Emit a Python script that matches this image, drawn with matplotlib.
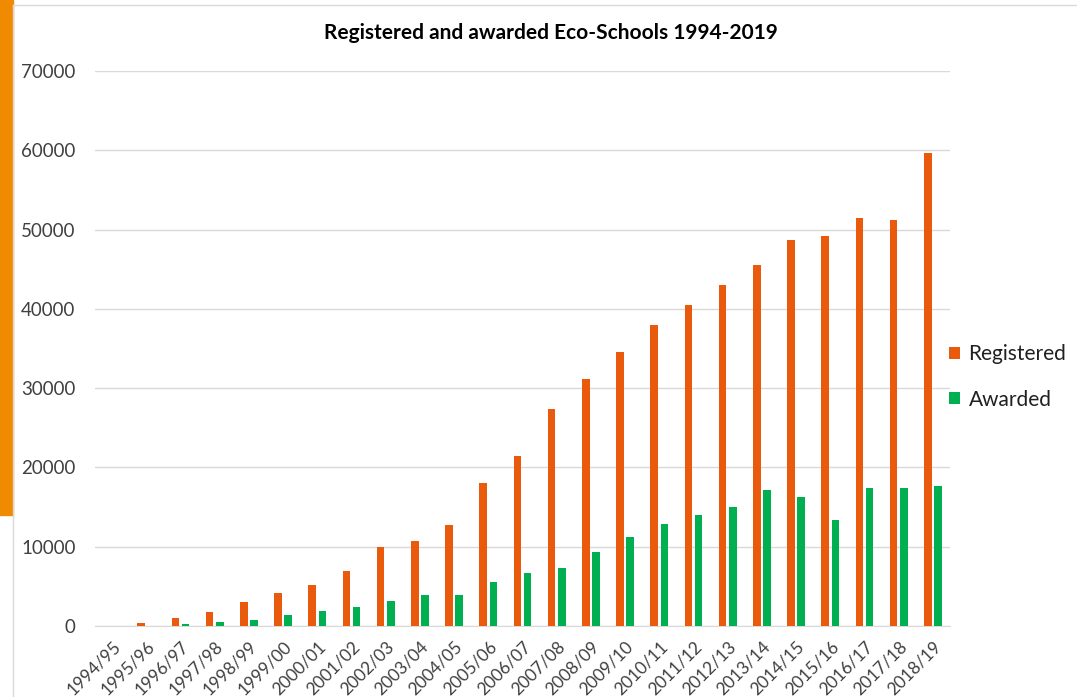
import matplotlib.pyplot as plt
import matplotlib.patches as mpatches
import numpy as np

plt.rcParams['font.family'] = ['Lato', 'DejaVu Sans']

# school years and counts
years = ['1994/95', '1995/96', '1996/97', '1997/98', '1998/99', '1999/00', '2000/01',
         '2001/02', '2002/03', '2003/04', '2004/05', '2005/06', '2006/07', '2007/08',
         '2008/09', '2009/10', '2010/11', '2011/12', '2012/13', '2013/14', '2014/15',
         '2015/16', '2016/17', '2017/18', '2018/19']
registered = [30, 400, 1000, 1800, 3000, 4200, 5200, 7000, 10000, 10700, 12700, 18050,
              21400, 27400, 31200, 34550, 37950, 40500, 43000, 45500, 48700, 49200,
              51400, 51200, 59600]
awarded = [0, 0, 200, 500, 800, 1400, 1900, 2400, 3100, 3900, 3900, 5570, 6710, 7340,
           9370, 11230, 12830, 13960, 14980, 17170, 16280, 13330, 17420, 17420, 17670]

orange = '#E95A0C'
green = '#00B050'

fig = plt.figure(figsize=(10.77, 6.97), dpi=100)

# side strip and chart border
fig.patches.append(mpatches.Rectangle((0, 1 - 515 / 697), 13 / 1077, 515 / 697,
                                      transform=fig.transFigure, color='#F08A00', zorder=0))
fig.lines.append(plt.Line2D([13 / 1077, 13 / 1077], [0, 1 - 5 / 697],
                            transform=fig.transFigure, color='#D9D9D9', lw=1))
fig.lines.append(plt.Line2D([13 / 1077, 1], [1 - 5 / 697, 1 - 5 / 697],
                            transform=fig.transFigure, color='#D9D9D9', lw=1))

ax = fig.add_axes([95 / 1077, 1 - 626 / 697, 855 / 1077, 555 / 697])
x = np.arange(len(years))
w = 0.22
ax.bar(x - w / 2 - 0.04, registered, w, color=orange, label='Registered', zorder=3)
ax.bar(x + w / 2 + 0.04, awarded, w, color=green, label='Awarded', zorder=3)

ax.set_xlim(-0.5, len(years) - 0.5)
ax.set_ylim(0, 70000)
ax.set_yticks(np.arange(0, 70001, 10000))
ax.yaxis.grid(True, color='#D9D9D9', lw=1, zorder=0)
for s in ['top', 'right', 'left']:
    ax.spines[s].set_visible(False)
ax.spines['bottom'].set_color('#D9D9D9')
ax.tick_params(axis='both', length=0, labelcolor='#404040')
ax.tick_params(axis='y', pad=14, labelsize=13.5)
ax.tick_params(axis='x', pad=9, labelsize=12.5)
ax.set_xticks(x)
ax.set_xticklabels(years, rotation=45, ha='right', rotation_mode='anchor')

fig.text(551 / 1077, 1 - 33 / 697, 'Registered and awarded Eco-Schools 1994-2019',
         ha='center', va='center', fontsize=15, fontweight='bold')

fig.legend(loc='center left', bbox_to_anchor=(930 / 1077, 1 - 377 / 697), frameon=False,
           fontsize=15, handlelength=0.55, handleheight=0.55, handletextpad=0.4,
           labelspacing=1.2, labelcolor='#202020')

fig.savefig('out.png', dpi=100)
